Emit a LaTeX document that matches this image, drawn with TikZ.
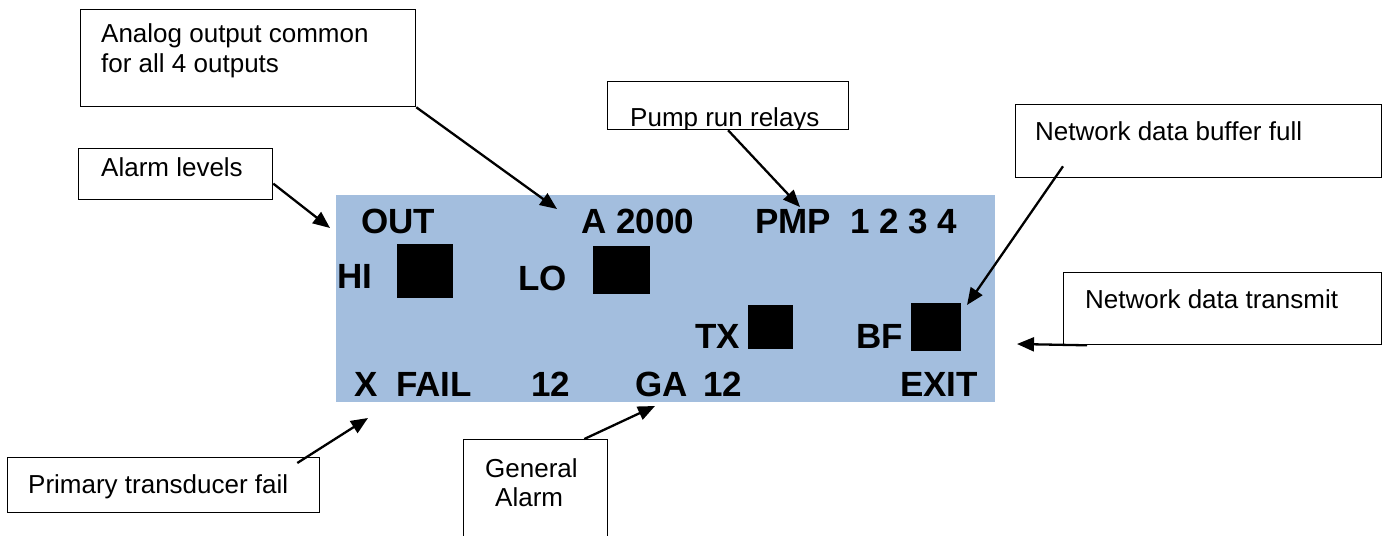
\documentclass[tikz,border=0pt]{standalone}
\usepackage{fontspec}
\setmainfont{Liberation Sans}
\usetikzlibrary{arrows.meta}
\definecolor{panelblue}{RGB}{163,190,222}
\begin{document}
\begin{tikzpicture}[x=1pt,y=-1pt,
  callout/.style={draw=black,line width=1.3pt,fill=white,inner sep=0pt,anchor=north west},
  ctext/.style={font=\fontsize{26}{30}\selectfont,anchor=base west,inner sep=0pt},
  ltext/.style={font=\fontsize{35}{40}\selectfont\bfseries,anchor=base west,inner sep=0pt},
  lamp/.style={fill=black,inner sep=0pt,anchor=north west},
  pointer/.style={line width=2.3pt,-{Triangle[length=17pt,width=14pt]}}]
\useasboundingbox (0,0) rectangle (1388,535);

% display panel
\node[fill=panelblue,inner sep=0pt,anchor=north west,minimum width=659pt,minimum height=207pt] (panel) at (336,195) {};
\node[ltext] (out) at (361,233) {OUT};
\node[ltext] (a2000) at (581,233) {A 2000};
\node[ltext] (pmp) at (755,233) {PMP};
\node[ltext] (nums) at (850,233) {1 2 3 4};
\node[ltext] (hi) at (337,288) {HI};
\node[lamp,minimum width=56pt,minimum height=54pt] (hisq) at (397,244) {};
\node[ltext] (lo) at (518,290) {LO};
\node[lamp,minimum width=57pt,minimum height=48pt] (losq) at (593,246) {};
\node[ltext] (tx) at (695,348) {TX};
\node[lamp,minimum width=45pt,minimum height=44pt] (txsq) at (748,305) {};
\node[ltext] (bf) at (856,348) {BF};
\node[lamp,minimum width=50pt,minimum height=48pt] (bfsq) at (911,303) {};
\node[ltext] (x) at (354,396) {X};
\node[ltext] (fail) at (396,396) {FAIL};
\node[ltext] (n1) at (531,396) {12};
\node[ltext] (ga) at (635,396) {GA};
\node[ltext] (n2) at (703,396) {12};
\node[ltext] (exit) at (900,396) {EXIT};

% callout boxes
\node[callout,minimum width=335pt,minimum height=97pt] (analog) at (80,9) {};
\node[ctext] (analogA) at (101,42) {Analog output common};
\node[ctext] (analogB) at (101,72) {for all 4 outputs};

\node[callout,minimum width=241pt,minimum height=48pt] (pump) at (607,81) {};
\begin{scope}
  \clip (607,81) rectangle (848,129);
  \node[ctext] (pumpT) at (630,126) {Pump run relays};
\end{scope}

\node[callout,minimum width=366pt,minimum height=73pt] (buffer) at (1015,104) {};
\node[ctext] (bufferT) at (1035,140) {Network data buffer full};

\node[callout,minimum width=194pt,minimum height=51pt] (alarm) at (78,148) {};
\node[ctext] (alarmT) at (101,176) {Alarm levels};

\node[callout,minimum width=318pt,minimum height=72pt] (transmit) at (1063,272) {};
\node[ctext] (transmitT) at (1085,308) {Network data transmit};

\node[callout,minimum width=312pt,minimum height=55pt] (primary) at (7,457) {};
\node[ctext] (primaryT) at (28,493) {Primary transducer fail};

\node[callout,minimum width=144pt,minimum height=115pt] (general) at (463,439) {};
\node[ctext] (generalA) at (485,477) {General};
\node[ctext] (generalB) at (495,506) {Alarm};

% pointer tips
\coordinate (tipA) at (557,209);
\coordinate (tipP) at (800,207);
\coordinate (tipB) at (967,305);
\coordinate (tipL) at (330,228);
\coordinate (tipT) at (1017,344);
\coordinate (tipF) at (368,418);
\coordinate (tipG) at (655,406);

% connectors
\draw[pointer] (analog.south east) -- (tipA);
\draw[pointer] (pump.south) -- (tipP);
\draw[pointer] ([shift={(48,-12)}]buffer.south west) -- (tipB);
\draw[pointer] ([shift={(0,9.5)}]alarm.east) -- (tipL);
\draw[pointer] ([shift={(24,0)}]transmit.south west) -- (tipT);
\draw[pointer] ([shift={(-23,6)}]primary.north east) -- (tipF);
\draw[pointer] ([shift={(-24,0)}]general.north east) -- (tipG);
\end{tikzpicture}
\end{document}
